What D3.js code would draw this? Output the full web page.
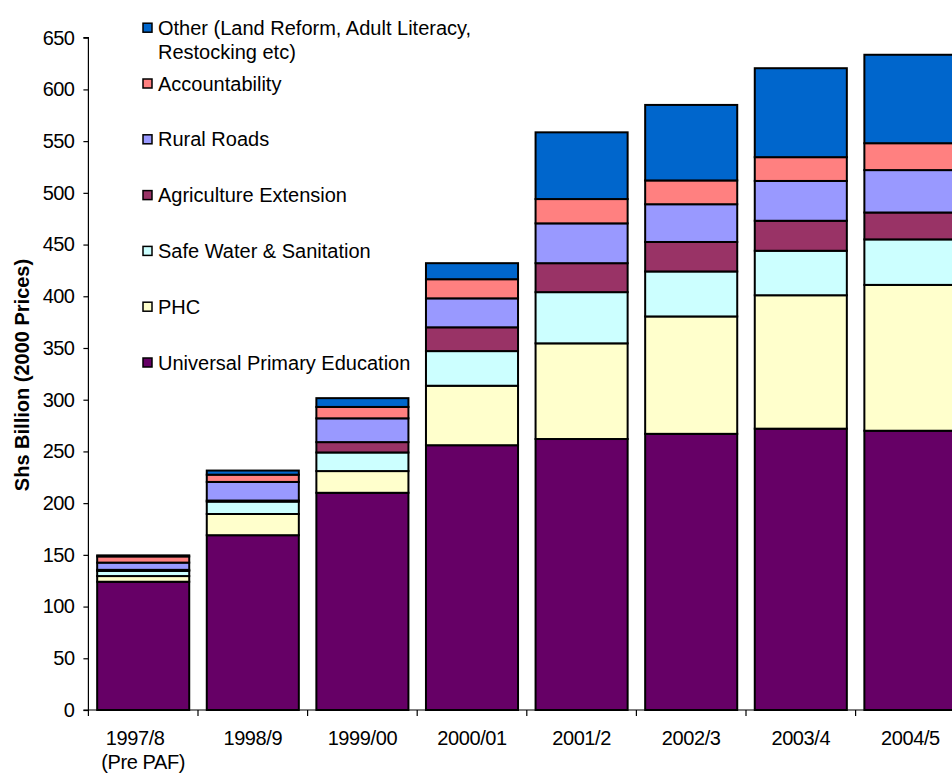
<!DOCTYPE html>
<html>
<head>
<meta charset="utf-8">
<script src="https://cdn.jsdelivr.net/npm/d3@7/dist/d3.min.js"></script>
<style>
  html, body { margin: 0; padding: 0; background: #fff; }
  svg { display: block; font-family: "Liberation Sans", Arial, sans-serif; }
</style>
</head>
<body>
<svg id="chart" width="952" height="774"></svg>
<script>
// ---- Data (Shs Billion, 2000 prices) ----
const categories = ["1997/8", "1998/9", "1999/00", "2000/01", "2001/2", "2002/3", "2003/4", "2004/5"];
const categoryLines = [["1997/8", "(Pre PAF)"], ["1998/9"], ["1999/00"], ["2000/01"], ["2001/2"], ["2002/3"], ["2003/4"], ["2004/5"]];

const seriesNames = [
  "Universal Primary Education",
  "PHC",
  "Safe Water & Sanitation",
  "Agriculture Extension",
  "Rural Roads",
  "Accountability",
  "Other (Land Reform, Adult Literacy, Restocking etc)"
];
const upe          = [124, 169, 210, 256, 262, 267, 272, 270];
const phc          = [5.5, 20.5, 21, 57.5, 92.5, 113.5, 129, 141];
const water        = [5, 12, 18, 33.5, 49.5, 43.5, 43, 44];
const agriculture  = [1, 1, 10, 23, 28, 28.5, 29, 26];
const roads        = [7, 18, 23, 28, 38.5, 36.5, 38.5, 41];
const accountability = [6, 7, 11, 18.5, 23.5, 23, 23, 26];
const other        = [1, 4, 8.5, 15.5, 64.5, 73, 86, 85.5];
const seriesValues = [upe, phc, water, agriculture, roads, accountability, other];
const seriesColors = ["#660066", "#FFFFCC", "#CCFFFF", "#993366", "#9999FF", "#FF8080", "#0066CC"];

const yTicks = [0, 50, 100, 150, 200, 250, 300, 350, 400, 450, 500, 550, 600, 650];
const yTitle = "Shs Billion (2000 Prices)";

// ---- Layout ----
const svg = d3.select("#chart");
const x0 = 88.4, step = 109.6, yBottom = 710, yTop = 37.7;

const x = d3.scaleBand()
  .domain(categories)
  .range([x0, x0 + step * categories.length])
  .paddingInner(0.16)
  .paddingOuter(0.08);

const y = d3.scaleLinear().domain([0, 650]).range([yBottom, yTop]);

// stacked data
const table = categories.map((c, i) => {
  const row = { cat: c };
  seriesNames.forEach((s, k) => row[s] = seriesValues[k][i]);
  return row;
});
const stack = d3.stack().keys(seriesNames)(table);

// bars
const g = svg.append("g");
stack.forEach((layer, k) => {
  g.selectAll(null)
    .data(layer)
    .enter().append("rect")
    .attr("x", d => x(d.data.cat))
    .attr("width", x.bandwidth())
    .attr("y", d => y(d[1]))
    .attr("height", d => y(d[0]) - y(d[1]))
    .attr("fill", seriesColors[k])
    .attr("stroke", "#000")
    .attr("stroke-width", 2);
});

// y axis
const yAxis = d3.axisLeft(y).tickValues(yTicks).tickSize(5).tickPadding(9).tickFormat(d3.format("d"));
const ya = svg.append("g").attr("transform", `translate(${x0},0)`).call(yAxis);
ya.select(".domain").attr("stroke", "#000").attr("stroke-width", 1.2).attr("d", `M-5,${yTop}H0V${yBottom}H-5`);
ya.selectAll(".tick line").attr("stroke", "#000").attr("stroke-width", 1.2);
ya.selectAll(".tick text").attr("font-size", 20).attr("letter-spacing", -0.6)
  .attr("fill", "#000").attr("font-family", "Liberation Sans, Arial, sans-serif");

// x axis line + boundary ticks
const xa = svg.append("g");
xa.append("line")
  .attr("x1", x0).attr("x2", 952).attr("y1", yBottom).attr("y2", yBottom)
  .attr("stroke", "#000").attr("stroke-width", 1.2);
xa.selectAll("line.tk")
  .data(categories)
  .enter().append("line")
  .attr("class", "tk")
  .attr("x1", (d, i) => x0 + i * x.step()).attr("x2", (d, i) => x0 + i * x.step())
  .attr("y1", yBottom).attr("y2", yBottom + 6)
  .attr("stroke", "#000").attr("stroke-width", 1.2);

// category labels
categories.forEach((c, i) => {
  const cx = x(c) + x.bandwidth() / 2;
  const t = xa.append("text")
    .attr("text-anchor", "middle")
    .attr("font-size", 20)
    .attr("letter-spacing", -0.4)
    .attr("fill", "#000");
  categoryLines[i].forEach((line, j) => {
    t.append("tspan")
      .attr("x", j === 0 && categoryLines[i].length > 1 ? cx - 8 : cx)
      .attr("y", 745 + j * 24)
      .text(line);
  });
});

// y title
svg.append("text")
  .attr("transform", `translate(29,375) rotate(-90)`)
  .attr("text-anchor", "middle")
  .attr("font-size", 20)
  .attr("font-weight", "bold")
  .attr("fill", "#000")
  .text(yTitle);

// legend (top to bottom: reverse of stack order)
const legendOrder = d3.range(seriesNames.length).reverse();
const legendLines = {
  6: ["Other (Land Reform, Adult Literacy,", "Restocking etc)"]
};
const lg = svg.append("g");
legendOrder.forEach((k, r) => {
  const cy = 27.7 + r * 55.8;
  lg.append("rect")
    .attr("x", 143).attr("y", cy - 4.5)
    .attr("width", 9).attr("height", 9)
    .attr("fill", seriesColors[k])
    .attr("stroke", "#000").attr("stroke-width", 1.5);
  const lines = legendLines[k] || [seriesNames[k]];
  const t = lg.append("text").attr("font-size", 20).attr("fill", "#000");
  lines.forEach((line, j) => {
    t.append("tspan").attr("x", 158).attr("y", cy + 7 + j * 24).text(line);
  });
});
</script>
</body>
</html>
